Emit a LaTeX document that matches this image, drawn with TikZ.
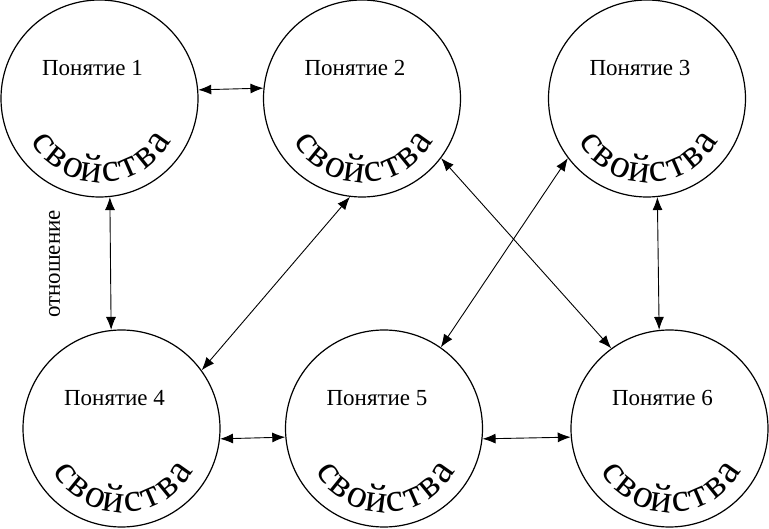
\documentclass[tikz,border=0pt]{standalone}
\usepackage{fontspec}
\setmainfont{Liberation Serif}
\usetikzlibrary{arrows.meta}
\newcommand\svfont{\fontsize{40}{46}\selectfont}
\newcommand\lblfont{\fontsize{23}{27}\selectfont}
\begin{document}
\begin{tikzpicture}[x=1pt,y=1pt,
  concept/.style={circle,draw,line width=1.2pt,minimum size=197pt,inner sep=0pt},
  lbl/.style={font=\lblfont,anchor=base,inner sep=0pt},
  letter/.style={font=\svfont,anchor=base,inner sep=0pt},
  rel/.style={{Latex[length=13pt,width=10pt]}-{Latex[length=13pt,width=10pt]},line width=0.9pt}]
\useasboundingbox (0,0) rectangle (769,528);
\node[concept] (c1) at (99.5,429.5) {};
\node[concept] (c2) at (362,429.5) {};
\node[concept] (c3) at (647,429.5) {};
\node[concept] (c4) at (121.5,99.5) {};
\node[concept] (c5) at (384,99.5) {};
\node[concept] (c6) at (669.5,99.5) {};
\foreach \i/\n in {c1/1,c2/2,c3/3,c4/4,c5/5,c6/6}{
  \node[lbl] (l\n) at ([shift={(-7,23)}]\i.center) {Понятие \n};
  \foreach \ch [count=\k from 0] in {с,в,о,й,с,т,в,а}{
    \pgfmathsetmacro\ang{215.5+15.6*\k}
    \pgfmathsetmacro\rot{\ang+90}
    \pgfmathsetmacro\dx{1.5+80*cos(\ang)}
    \pgfmathsetmacro\dy{-4+80*sin(\ang)}
    \node[letter,rotate=\rot] (s\n-\k) at ([shift={(\dx,\dy)}]\i.center) {\ch};
  }
}
\node[font=\lblfont,rotate=90,inner sep=0pt] (rl) at (54.5,264) {отношение};
\draw[rel] (c1.5.8) -- (c2.174.2);
\draw[rel] (c1.276.1) -- (c4.96.7);
\draw[rel] (c2.263) -- (c4.36.7);
\draw[rel] (c2.323.7) -- (c6.126.1);
\draw[rel] (c3.217.5) -- (c5.55.2);
\draw[rel] (c3.276.4) -- (c6.96.7);
\draw[rel] (c4.354.5) -- (c5.185.5);
\draw[rel] (c5.354.5) -- (c6.185.5);
\end{tikzpicture}
\end{document}
